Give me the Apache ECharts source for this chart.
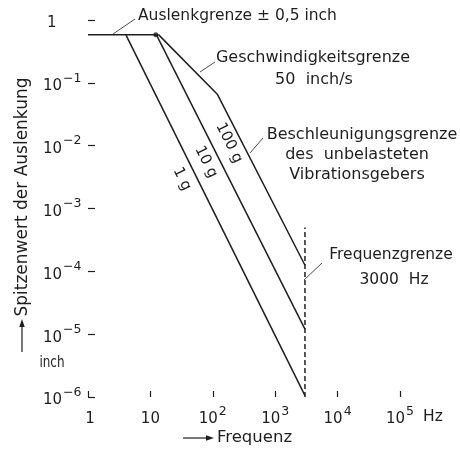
<!DOCTYPE html>
<html><head><meta charset="utf-8">
<script src="https://cdn.jsdelivr.net/npm/echarts@6/dist/echarts.min.js"></script>
<style>html,body{margin:0;padding:0;background:#fff}#c{width:460px;height:451px}</style>
</head><body><div id="c"></div>
<script>
// tick exponents (labels are 1, 10, 10^n)
const xTickExponents = [0, 1, 2, 3, 4, 5];
const yTickExponents = [-6, -5, -4, -3, -2, -1, 0];
// series [frequency Hz, peak displacement inch]
const displacementLimit = [[1, 0.58], [13.6, 0.58]];
const accel1g = [[4.05, 0.58], [3000, 1.05e-6]];
const accel10g = [[12.5, 0.58], [3000, 1.2e-5]];
const velocityAndAccel100g = [[13.6, 0.58], [118, 0.066], [3000, 1.25e-4]];
const frequencyLimit = [[3000, 1e-6], [3000, 5e-4]];
const limitMarker = [[12.2, 0.58]];

const FONT = 'DejaVu Sans';
const INK = '#1e1e1e';
const chart = echarts.init(document.getElementById('c'), null, {renderer: 'canvas'});

function expLabel(e) {
  if (e === 0) return '{p|1}';
  if (e === 1) return '{b|10}';
  return '{b|10}{s|' + String(e).replace('-', '−') + '}';
}
const rich = {
  p: {fontSize: 15, fontFamily: FONT, color: INK, lineHeight: 22, verticalAlign: 'bottom', padding: [0, 0, 0, 4]},
  b: {fontSize: 15, fontFamily: FONT, color: INK, lineHeight: 22, verticalAlign: 'bottom'},
  s: {fontSize: 12.5, fontFamily: FONT, color: INK, lineHeight: 13, verticalAlign: 'top', padding: [0, 0, 0, 1]}
};
const lineStyle = {color: INK, width: 1.5};
function lineSeries(data, extra) {
  return Object.assign({type: 'line', data: data, symbol: 'none', lineStyle: lineStyle, silent: true, animation: false}, extra || {});
}

const txt = (text, x, y, align, size, extra) => Object.assign({
  type: 'text', x: x, y: y, silent: true,
  style: {text: text, fill: INK, font: (size || 15) + 'px "' + FONT + '"', textAlign: align || 'center', textVerticalAlign: 'middle'}
}, extra || {});
const seg = (x1, y1, x2, y2, w) => ({type: 'line', silent: true, shape: {x1, y1, x2, y2}, style: {stroke: INK, lineWidth: w || 0.8}});

chart.setOption({
  backgroundColor: '#ffffff',
  animation: false,
  grid: {left: 88, right: 60, top: 20, bottom: 54},
  xAxis: {
    type: 'log', logBase: 10, min: 1, max: 1e5, interval: 1,
    axisLine: {show: false},
    axisTick: {show: true, inside: true, length: 6, lineStyle: {color: INK, width: 1.2}},
    splitLine: {show: false},
    axisLabel: {
      margin: 8, rich: rich,
      formatter: v => { const e = Math.round(Math.log10(v)); return xTickExponents.includes(e) ? expLabel(e) : ''; }
    }
  },
  yAxis: {
    type: 'log', logBase: 10, min: 1e-6, max: 1, interval: 1,
    axisLine: {show: false},
    axisTick: {show: true, inside: true, length: 7, lineStyle: {color: INK, width: 1.2}},
    splitLine: {show: false},
    axisLabel: {
      margin: 45, align: 'left', rich: rich,
      formatter: v => { const e = Math.round(Math.log10(v)); return yTickExponents.includes(e) ? expLabel(e) : ''; }
    }
  },
  series: [
    lineSeries(displacementLimit),
    lineSeries(accel1g),
    lineSeries(accel10g),
    lineSeries(velocityAndAccel100g),
    lineSeries(frequencyLimit, {lineStyle: {color: INK, width: 1.5, type: [5, 3]}}),
    {type: 'scatter', data: limitMarker, symbol: 'circle', symbolSize: 5, itemStyle: {color: INK}, silent: true, animation: false}
  ],
  graphic: [
    txt('Auslenkgrenze ± 0,5 inch', 138, 16, 'left', 15.5),
    seg(113, 34, 135, 19),
    txt('Geschwindigkeitsgrenze', 313, 58, 'center', 16),
    txt('50  inch/s', 314, 80, 'center', 16),
    seg(200, 72, 215, 62),
    txt('Beschleunigungsgrenze', 362, 135, 'center', 16),
    txt('des  unbelasteten', 357, 155, 'center', 16),
    txt('Vibrationsgebers', 357, 175, 'center', 16),
    seg(250, 153, 263, 138),
    txt('Frequenzgrenze', 391, 255, 'center', 15.5),
    txt('3000  Hz', 394, 280, 'center', 15.5),
    seg(304, 280, 322, 263),
    txt('1 g', 182, 179, 'center', 15, {rotation: -1.107}),
    txt('10 g', 206, 162, 'center', 15, {rotation: -1.107}),
    txt('100 g', 229, 143, 'center', 15, {rotation: -1.107}),
    txt('Hz', 433, 417, 'center', 15.5),
    txt('inch', 52, 363, 'center', 16, {scaleX: 0.75}),
    txt('Frequenz', 217, 438, 'left', 16.5),
    seg(183, 438, 208, 438, 1.2),
    {type: 'polygon', silent: true, shape: {points: [[214, 438], [206, 435.3], [206, 440.7]]}, style: {fill: INK}},
    txt('Spitzenwert der Auslenkung', 23, 197, 'center', 17, {rotation: Math.PI / 2}),
    seg(22, 352, 22, 326, 1.2),
    {type: 'polygon', silent: true, shape: {points: [[22, 319], [19.3, 327], [24.7, 327]]}, style: {fill: INK}}
  ]
});
</script></body></html>
